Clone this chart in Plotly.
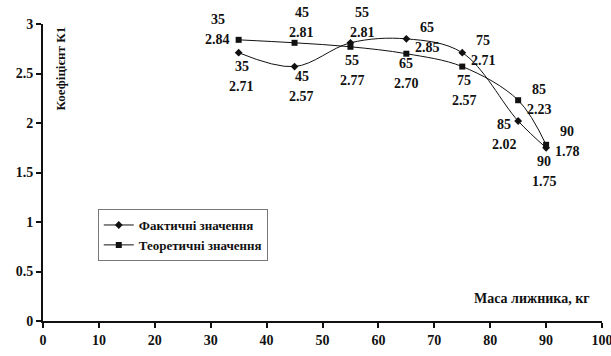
import plotly.graph_objects as go

mass = [35, 45, 55, 65, 75, 85, 90]
fact = [2.71, 2.57, 2.81, 2.85, 2.71, 2.02, 1.75]
theory = [2.84, 2.81, 2.77, 2.70, 2.57, 2.23, 1.78]
fact_name = "Фактичні значення"
theory_name = "Теоретичні значення"
x_ticks = [0, 10, 20, 30, 40, 50, 60, 70, 80, 90, 100]
y_ticks = [0, 0.5, 1, 1.5, 2, 2.5, 3]

# label offsets (pixels) for the first line of each label pair
fact_off = [(3, 14), (7, 10), (12, -30), (21, -11), (21, -12), (-14, 3), (-2, 14)]
theory_off = [(-21, -20), (7, -30), (2, 14), (0, 10), (2, 14), (21, -11), (21, -13)]

FONT = "Liberation Serif, Times New Roman, Tinos, serif"

fig = go.Figure()
fig.add_trace(go.Scatter(
    x=mass, y=fact, name=fact_name, mode="lines+markers",
    line=dict(color="#111", width=1, shape="spline", smoothing=1),
    marker=dict(symbol="diamond", size=6, color="#111"),
))
fig.add_trace(go.Scatter(
    x=mass, y=theory, name=theory_name, mode="lines+markers",
    line=dict(color="#111", width=1, shape="spline", smoothing=1),
    marker=dict(symbol="square", size=6, color="#111"),
))

def add_labels(xs, ys, offs):
    for xv, yv, (dx, dy) in zip(xs, ys, offs):
        for i, txt in enumerate([str(xv), f"{yv:.2f}"]):
            fig.add_annotation(
                x=xv, y=yv, xref="x", yref="y", text="<b>" + txt + "</b>", showarrow=False,
                xshift=dx, yshift=-(dy + 20 * i),
                xanchor="center", yanchor="middle",
                font=dict(family=FONT, size=14, color="#111"),
            )

add_labels(mass, fact, fact_off)
add_labels(mass, theory, theory_off)

fig.add_annotation(
    x=0.032, y=0.85, xref="paper", yref="paper", text="<b>Коефіцієнт К1</b>",
    showarrow=False, textangle=-90, xanchor="center", yanchor="middle",
    font=dict(family=FONT, size=13, color="#111"),
)
fig.add_annotation(
    x=0.982, y=0.077, xref="paper", yref="paper", text="<b>Маса лижника, кг</b>",
    showarrow=False, xanchor="right", yanchor="middle",
    font=dict(family=FONT, size=14, color="#111"),
)

axis_common = dict(
    showgrid=False, zeroline=False, showline=True, linecolor="#111", linewidth=2,
    ticks="outside", ticklen=5, tickwidth=2, tickcolor="#111",
    tickfont=dict(family=FONT, size=14, color="#111"),
    ticklabeloverflow="allow", automargin=False,
)
fig.update_xaxes(range=[0, 100], tickvals=x_ticks,
                 ticktext=["<b>%s</b>" % v for v in x_ticks], **axis_common)
fig.update_yaxes(range=[0, 3], tickvals=y_ticks,
                 ticktext=["<b>%s</b>" % v for v in y_ticks], **axis_common)

fig.update_layout(
    width=611, height=356, autosize=False,
    margin=dict(l=43, r=9, t=24, b=35),
    paper_bgcolor="white", plot_bgcolor="white",
    showlegend=True,
    legend=dict(
        x=0.098, y=0.377, xanchor="left", yanchor="top",
        bgcolor="white", bordercolor="#777", borderwidth=1,
        font=dict(family=FONT, size=13, color="#111", weight="bold"),
        tracegroupgap=0, itemwidth=30,
    ),
)

fig.write_html(
    "out.html",
    config={"displayModeBar": False},
    post_script="document.body.style.margin='0';document.body.style.overflow='hidden';",
)
